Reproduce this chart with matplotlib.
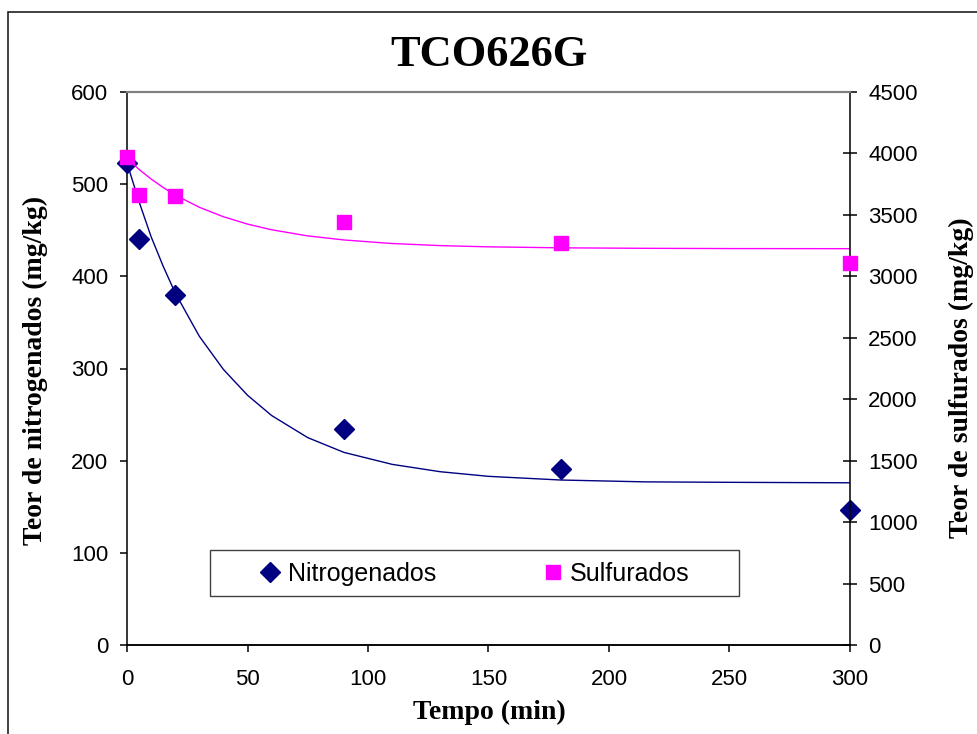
import matplotlib
matplotlib.use("Agg")
import matplotlib.pyplot as plt
from matplotlib.patches import Rectangle
from matplotlib.lines import Line2D

# Measured contents over reaction time
tempo = [0, 5, 20, 90, 180, 300]
nitrogenados = [523, 440, 380, 234, 191, 147]
sulfurados = [3970, 3660, 3650, 3445, 3270, 3105]

# Trend lines
tempo_fit = [0, 5, 10, 15, 20, 30, 40, 50, 60, 75, 90, 110, 130, 150, 180, 215, 250, 300]
nitro_fit = [523, 481, 443, 411, 382, 335, 299, 271, 249, 225, 209, 196, 188, 183, 179, 177, 176.5, 176]
sulf_fit = [3960, 3870, 3792, 3723, 3662, 3562, 3485, 3425, 3379, 3329, 3296, 3267, 3250, 3240,
            3232, 3228, 3226, 3225]

x_ticks = [0, 50, 100, 150, 200, 250, 300]
left_ticks = [0, 100, 200, 300, 400, 500, 600]
right_ticks = [0, 500, 1000, 1500, 2000, 2500, 3000, 3500, 4000, 4500]

NAVY = "#000080"
MAGENTA = "#FF00FF"
SANS = "Liberation Sans"
SERIF = "Liberation Serif"

W, H = 978, 734
fig = plt.figure(figsize=(W / 100, H / 100), dpi=100)

# outer chart frame
fig.patches.append(Rectangle((8 / W, -0.1), 1.2, 1.1 - 12 / H, transform=fig.transFigure,
                             fill=False, edgecolor="#202020", linewidth=1.2))

ax = fig.add_axes([127 / W, 1 - 645 / H, (850 - 127) / W, (645 - 92) / H])
ax2 = ax.twinx()

ax.plot(tempo_fit, nitro_fit, color=NAVY, lw=1.0, zorder=2)
ax.plot(tempo, nitrogenados, ls="none", marker="D", ms=10, color=NAVY, clip_on=False, zorder=3)
ax2.plot(tempo_fit, sulf_fit, color=MAGENTA, lw=1.0, zorder=2)
ax2.plot(tempo, sulfurados, ls="none", marker="s", ms=10, color=MAGENTA, clip_on=False, zorder=3)

ax.set_xlim(0, 300)
ax.set_ylim(0, 600)
ax2.set_ylim(0, 4500)
ax.set_xticks(x_ticks)
ax.set_yticks(left_ticks)
ax2.set_yticks(right_ticks)

for a in (ax, ax2):
    for s in ("left", "right", "bottom"):
        a.spines[s].set_color("black")
        a.spines[s].set_linewidth(1.1)
    a.spines["top"].set_color("#808080")
    a.spines["top"].set_linewidth(1.5)
    a.patch.set_visible(False)
ax2.spines["left"].set_visible(False)
ax.spines["right"].set_visible(False)

ax.tick_params(axis="y", direction="out", length=5, width=1.1, pad=8.5, labelsize=16)
ax.tick_params(axis="x", direction="out", length=5, width=1.1, pad=12, labelsize=16)
ax2.tick_params(axis="y", direction="inout", length=10, width=1.1, pad=8, labelsize=16)
for lab in ax.get_xticklabels() + ax.get_yticklabels() + ax2.get_yticklabels():
    lab.set_fontfamily(SANS)

fig.text(489 / W, 1 - 55 / H, "TCO626G", ha="center", va="center",
         fontfamily=SERIF, fontweight="bold", fontsize=32)
fig.text(489 / W, 1 - 712 / H, "Tempo (min)", ha="center", va="center",
         fontfamily=SERIF, fontweight="bold", fontsize=20)
fig.text(35 / W, 1 - 370 / H, "Teor de nitrogenados (mg/kg)", ha="center", va="center",
         rotation=90, fontfamily=SERIF, fontweight="bold", fontsize=20)
fig.text(961 / W, 1 - 378 / H, "Teor de sulfurados (mg/kg)", ha="center", va="center",
         rotation=90, fontfamily=SERIF, fontweight="bold", fontsize=20)

# legend box
fig.patches.append(Rectangle((210 / W, 1 - 596 / H), (739 - 210) / W, 46 / H,
                             transform=fig.transFigure, facecolor="white",
                             edgecolor="#404040", linewidth=1.0, zorder=5))
handles = [Line2D([], [], ls="none", marker="D", ms=10, color=NAVY),
           Line2D([], [], ls="none", marker="s", ms=10, color=MAGENTA)]
leg = fig.legend(handles, ["Nitrogenados", "Sulfurados"], ncol=2, frameon=False,
                 loc="center left", bbox_to_anchor=(258 / W, 1 - 574 / H),
                 borderpad=0, borderaxespad=0, handlelength=1.0, handletextpad=0.2,
                 columnspacing=4.15, prop={"family": SANS, "size": 18})
leg.set_zorder(6)

fig.savefig("out.png", dpi=100)
